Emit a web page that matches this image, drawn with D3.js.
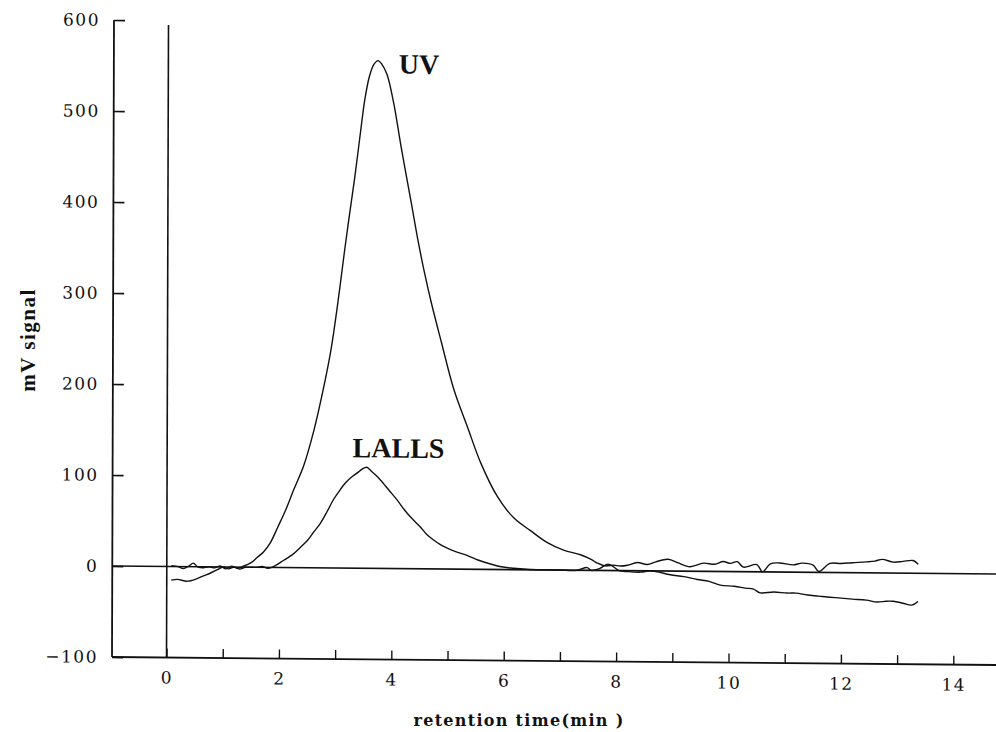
<!DOCTYPE html>
<html>
<head>
<meta charset="utf-8">
<script src="https://cdn.jsdelivr.net/npm/d3@7"></script>
<style>
  body { margin: 0; background: #fff; }
  svg { display: block; }
  .tick text { font-family: "DejaVu Serif", serif; font-size: 17px; letter-spacing: 1.5px; fill: #111; }
  .domain { display: none; }
</style>
</head>
<body>
<svg id="chart" width="996" height="732"></svg>
<script>
// ---- data ----
var uvTime = [0.08, 0.2, 0.3, 0.4, 0.47, 0.55, 0.65, 0.75, 0.85, 0.95, 1.05, 1.15, 1.25, 1.36, 1.5,
  1.61, 1.72, 1.84, 1.97, 2.11, 2.25, 2.43, 2.61, 2.77, 2.91, 3.03, 3.14, 3.23, 3.32, 3.42, 3.5, 3.58,
  3.66, 3.73, 3.8, 3.89, 4.01, 4.15, 4.33, 4.46, 4.56, 4.69, 4.87, 5.1, 5.35, 5.58, 5.88, 6.17,
  6.47, 6.77, 7.06, 7.36, 7.55, 7.66, 7.8, 7.95, 8.07, 8.2, 8.37, 8.55, 8.7, 8.92, 9.1, 9.31,
  9.55, 9.75, 9.9, 10.03, 10.15, 10.26, 10.5, 10.6, 10.74, 10.9, 11.15, 11.3, 11.5, 11.6, 11.8,
  12.0, 12.2, 12.45, 12.6, 12.73, 12.93, 13.1, 13.28, 13.37];
var uvSignal = [1, 0, -2, 1, 4, 0, -1, 0, -1, 1, -2, 1, -1, 1, 5,
  11, 17, 27, 44, 63, 85, 112, 151, 195, 240, 292, 346, 388, 428, 478, 516, 541,
  554, 558, 554, 543, 512, 462, 402, 358, 328, 293, 250, 197, 155, 117, 80, 57,
  43, 30, 22, 17, 12, 8, 5, 6, 5, 6, 9, 7, 10, 13, 9, 5,
  9, 8, 11, 9, 11, 5, 8, 0, 9, 10, 8, 10, 8, 1, 10,
  10, 11, 12, 13, 15, 12, 13, 14, 10];

var lallsTime = [0.08, 0.19, 0.36, 0.54, 0.65, 0.77, 0.9, 1.0, 1.1, 1.2, 1.3, 1.4, 1.5, 1.6, 1.7,
  1.8, 1.93, 2.08, 2.23, 2.37, 2.5, 2.62, 2.73, 2.85, 2.96, 3.08, 3.18, 3.3, 3.39, 3.47, 3.55,
  3.63, 3.72, 3.8, 3.95, 4.1, 4.22, 4.33, 4.51, 4.62, 4.74, 4.86, 4.99, 5.15, 5.35, 5.55, 5.76,
  5.95, 6.17, 6.4, 6.7, 7.0, 7.3, 7.48, 7.55, 7.7, 7.85, 7.95, 8.05, 8.2, 8.43, 8.6, 8.73,
  8.96, 9.2, 9.44, 9.65, 9.85, 10.1, 10.3, 10.44, 10.56, 10.8, 11.04, 11.2, 11.4, 11.6, 11.75,
  12.0, 12.2, 12.45, 12.64, 12.8, 12.93, 13.1, 13.26, 13.37];
var lallsSignal = [-15, -14, -16, -13, -10, -7, -3, 0, -2, 0, -2, 0, 0, 0, 1,
  -1, 2, 8, 14, 22, 30, 40, 49, 62, 75, 86, 94, 101, 105, 109, 111,
  107, 102, 97, 86, 75, 65, 57, 46, 38, 32, 27, 23, 19, 15, 10, 6,
  3, 1.5, 0.5, 0, 0, 0, 3, 0, 2, 7, 4, 0, -1, -1.5, 0, -1,
  -4, -6, -9, -11, -15, -16, -18, -19, -23, -22, -23, -23, -25, -26, -27,
  -28, -29, -30, -32, -31, -31, -33, -35, -31];

var yTicks = [-100, 0, 100, 200, 300, 400, 500, 600];
var xTicks = [0, 1, 2, 3, 4, 5, 6, 7, 8, 9, 10, 11, 12, 13, 14];
var peakLabels = [{text: "UV", t: 4.1, v: 544}, {text: "LALLS", t: 3.3, v: 122}];

var svg = d3.select("#chart");
var left = 112, bottom = 657, unit = 56.2;

var x = d3.scaleLinear().domain([-0.97, 15]).range([left, left + 15.97 * unit]);
var y = d3.scaleLinear().domain([-100, 600]).range([bottom, 20]);

// the scan is slightly skewed, so tilt the plot a little
var g = svg.append("g")
  .attr("transform", "translate(" + left + "," + bottom + ") skewX(-0.18) skewY(0.52) translate(" + (-left) + "," + (-bottom) + ")");

// y axis, ticks pointing inward
g.append("g")
  .attr("transform", "translate(" + left + ",0)")
  .call(d3.axisLeft(y).tickValues(yTicks).tickSizeInner(-11).tickSizeOuter(0).tickPadding(14))
  .selectAll(".tick line").attr("stroke", "#111").attr("stroke-width", 1.6);

// x axis, ticks pointing up, labels on even minutes only
var xAxis = g.append("g")
  .attr("transform", "translate(0," + bottom + ")")
  .call(d3.axisBottom(x).tickValues(xTicks).tickSizeInner(-9).tickSizeOuter(0).tickPadding(14)
    .tickFormat(function(d) { return d % 2 === 0 ? d : ""; }));
xAxis.selectAll(".tick line").attr("stroke", "#111").attr("stroke-width", 1.4);

// frame lines: y axis, x axis, zero baseline, injection marker at t=0
var lineStyle = function(sel, w) { sel.attr("stroke", "#111").attr("stroke-width", w).attr("fill", "none"); };
g.append("line").attr("x1", left).attr("x2", left).attr("y1", y(600)).attr("y2", y(-100)).call(lineStyle, 1.8);
g.append("line").attr("x1", left).attr("x2", x(15)).attr("y1", y(-100)).attr("y2", y(-100)).call(lineStyle, 1.8);
g.append("line").attr("x1", left).attr("x2", x(15)).attr("y1", y(0)).attr("y2", y(0)).call(lineStyle, 1.6);
g.append("line").attr("x1", x(0)).attr("x2", x(0)).attr("y1", y(595)).attr("y2", y(-100)).call(lineStyle, 1.6);

// the two detector traces
var trace = d3.line()
  .x(function(d) { return x(d[0]); })
  .y(function(d) { return y(d[1]); })
  .curve(d3.curveCatmullRom.alpha(0.5));

var uv = d3.zip(uvTime, uvSignal);
var lalls = d3.zip(lallsTime, lallsSignal);

g.append("path").datum(uv).attr("d", trace).call(lineStyle, 1.4);
g.append("path").datum(lalls).attr("d", trace).call(lineStyle, 1.4);

// peak names
g.selectAll(".peak")
  .data(peakLabels)
  .enter().append("text")
    .attr("class", "peak")
    .attr("x", function(d) { return x(d.t); })
    .attr("y", function(d) { return y(d.v); })
    .attr("font-family", "Liberation Serif, serif")
    .attr("font-weight", "bold")
    .attr("font-size", 28)
    .attr("fill", "#111")
    .text(function(d) { return d.text; });

// axis titles
svg.append("text")
  .attr("x", 519).attr("y", 726)
  .attr("text-anchor", "middle")
  .attr("font-family", "DejaVu Serif, serif")
  .attr("font-weight", "bold")
  .attr("font-size", 16)
  .attr("letter-spacing", "1.3px")
  .attr("fill", "#111")
  .text("retention time(min )");

svg.append("text")
  .attr("transform", "translate(35,340) rotate(-90)")
  .attr("text-anchor", "middle")
  .attr("font-family", "Liberation Serif, serif")
  .attr("font-weight", "bold")
  .attr("font-size", 21)
  .attr("letter-spacing", "1.5px")
  .attr("fill", "#111")
  .text("mV signal");
</script>
</body>
</html>
